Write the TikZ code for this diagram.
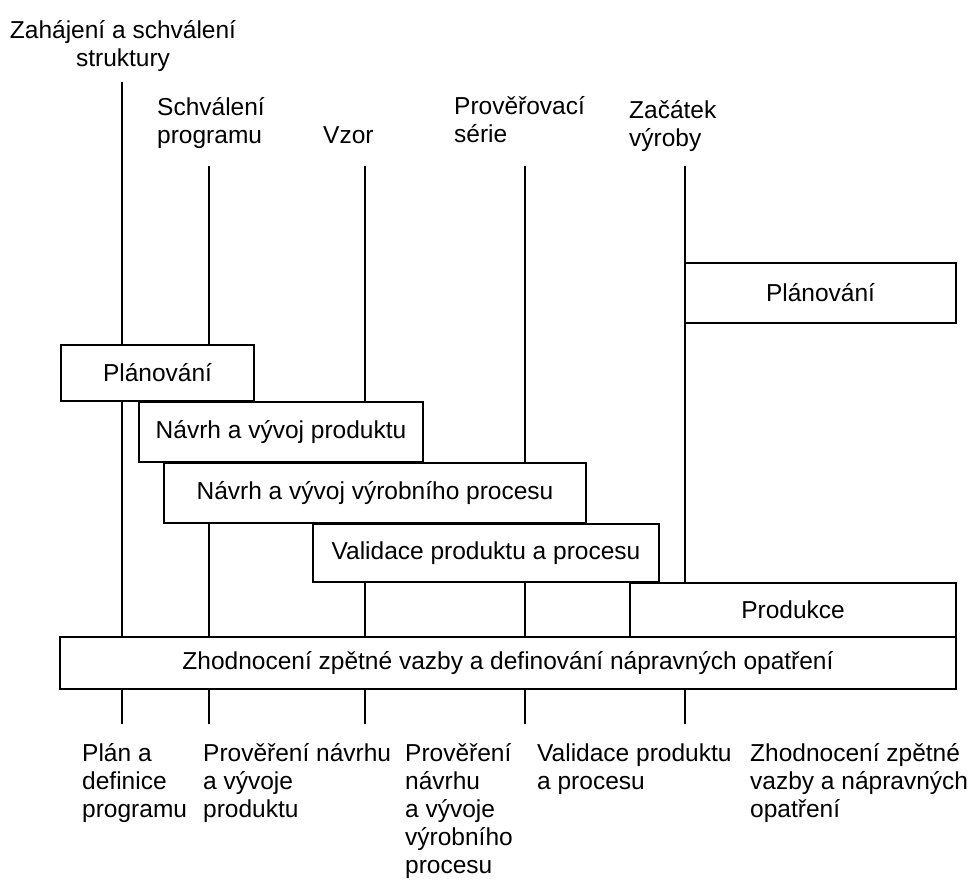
\documentclass[tikz,border=0pt]{standalone}
\usepackage{fontspec}
\setmainfont{Liberation Sans}
\newcommand\lblfont{\fontsize{24.5}{28}\selectfont}
\begin{document}
\begin{tikzpicture}[x=1pt,y=-1pt,
  lbl/.style={inner sep=0pt, anchor=base west, font=\lblfont},
  clbl/.style={inner sep=0pt, anchor=base, font=\lblfont},
  box/.style={draw, fill=white, line width=1.5pt, inner sep=0pt, font=\lblfont},
  vline/.style={line width=1.5pt}]
\useasboundingbox (0,0) rectangle (976,881);
% milestone line ends
\coordinate (t1) at (122,82);  \coordinate (b1) at (122,724);
\coordinate (t2) at (209,166); \coordinate (b2) at (209,724);
\coordinate (t3) at (365,166); \coordinate (b3) at (365,724);
\coordinate (t4) at (525,166); \coordinate (b4) at (525,724);
\coordinate (t5) at (685,166); \coordinate (b5) at (685,724);
\draw[vline] (t1) -- (b1);
\draw[vline] (t2) -- (b2);
\draw[vline] (t3) -- (b3);
\draw[vline] (t4) -- (b4);
\draw[vline] (t5) -- (b5);
% phase boxes
\node[box, minimum width=271pt, minimum height=60pt] (planR) at (820.5,293) {Plánování};
\node[box, minimum width=193pt, minimum height=56pt] (planL) at (157.5,373) {Plánování};
\node[box, minimum width=284pt, minimum height=60pt] (navrhP) at (281,432) {Návrh a vývoj produktu};
\node[box, minimum width=422pt, minimum height=60pt] (navrhV) at (375,493) {Návrh a vývoj výrobního procesu};
\node[box, minimum width=346pt, minimum height=58pt] (valid) at (486,553) {Validace produktu a procesu};
\node[box, minimum width=326pt, minimum height=54pt] (prod) at (793,610) {Produkce};
\node[box, minimum width=896pt, minimum height=52pt] (zhod) at (508,663) {Zhodnocení zpětné vazby a definování nápravných opatření};
% top milestone labels
\node[clbl] (topA) at (123,38) {\begin{tabular}[t]{@{}c@{}}Zahájení a schválení\\struktury\end{tabular}};
\node[lbl] (topB) at (157,115) {\begin{tabular}[t]{@{}l@{}}Schválení\\programu\end{tabular}};
\node[lbl] (topC) at (323,143) {Vzor};
\node[lbl] (topD) at (454,114) {\begin{tabular}[t]{@{}l@{}}Prověřovací\\série\end{tabular}};
\node[lbl] (topE) at (629,118) {\begin{tabular}[t]{@{}l@{}}Začátek\\výroby\end{tabular}};
% bottom review labels
\node[lbl] (botA) at (82,761) {\begin{tabular}[t]{@{}l@{}}Plán a\\definice\\programu\end{tabular}};
\node[lbl] (botB) at (203,761) {\begin{tabular}[t]{@{}l@{}}Prověření návrhu\\a vývoje\\produktu\end{tabular}};
\node[lbl] (botC) at (405,761) {\begin{tabular}[t]{@{}l@{}}Prověření\\návrhu\\a vývoje\\výrobního\\procesu\end{tabular}};
\node[lbl] (botD) at (537,761) {\begin{tabular}[t]{@{}l@{}}Validace produktu\\a procesu\end{tabular}};
\node[lbl] (botE) at (750,761) {\begin{tabular}[t]{@{}l@{}}Zhodnocení zpětné\\vazby a nápravných\\opatření\end{tabular}};
\end{tikzpicture}
\end{document}
